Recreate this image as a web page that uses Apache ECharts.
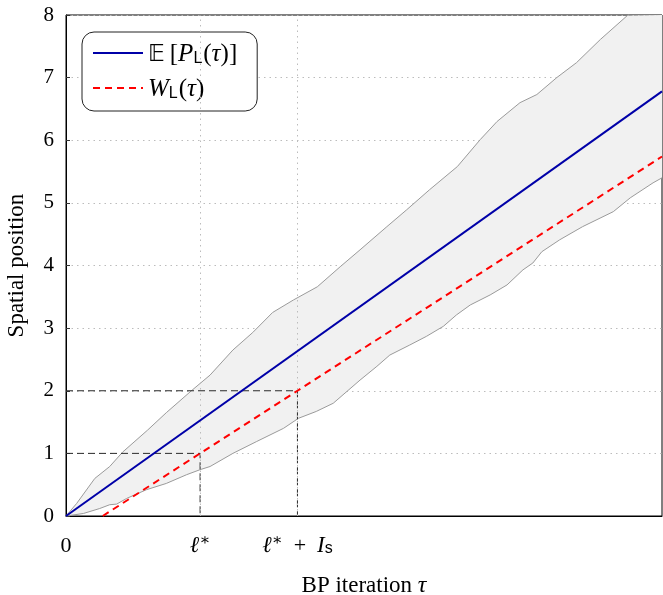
<!DOCTYPE html>
<html>
<head>
<meta charset="utf-8">
<script src="https://cdn.jsdelivr.net/npm/echarts@6/dist/echarts.min.js"></script>
<style>
  html, body { margin: 0; padding: 0; background: #fff; }
  #chart { width: 663px; height: 595px; }
</style>
</head>
<body>
<div id="chart"></div>
<script>
// Horizontal extent in BP iterations and the two marked iterations
const tauMax = 60;
const ellStar = 13.5;
const ellStarPlusIs = 23.3;
const xTickValues = [0, ellStar, ellStarPlusIs];
const yTickValues = [0, 1, 2, 3, 4, 5, 6, 7, 8];

// Expected position of the wave front (solid blue)
const meanPosition = [[0, 0], [60, 6.78]];
// Wave position W_L(tau) (dashed red)
const wavePosition = [[3.7, 0], [13.5, 1], [23.3, 2], [60, 5.74]];

// Spread of the observed front position (grey band)
const bandUpper = [
  [0, 0], [1.07, 0.20], [2.9, 0.6], [4.4, 0.79], [5.7, 1.02], [8.2, 1.37],
  [10.1, 1.65], [12.7, 2.01], [14.5, 2.25], [16.8, 2.65], [18.8, 2.93],
  [20.8, 3.25], [22.9, 3.45], [25.3, 3.66], [27.6, 3.98], [29.6, 4.25],
  [32.3, 4.62], [34.3, 4.89], [36.6, 5.21], [39.4, 5.58], [41.7, 6.01],
  [43.4, 6.30], [45.7, 6.60], [47.4, 6.73], [49.4, 7.00], [51.4, 7.24],
  [53.8, 7.61], [56.5, 7.99], [60, 8.45]
];
const bandLower = [
  [0, 0], [1.75, 0.04], [3.4, 0.12], [4.4, 0.18], [5.1, 0.19], [6.1, 0.28],
  [8.1, 0.42], [10.1, 0.52], [12.15, 0.66], [13.5, 0.74], [14.5, 0.79],
  [16.8, 1.00], [19.2, 1.19], [21.9, 1.40], [23.4, 1.56], [25.2, 1.67],
  [26.9, 1.80], [29.6, 2.17], [31.3, 2.39], [32.6, 2.57], [34.6, 2.73],
  [36.3, 2.87], [38.0, 3.03], [39.3, 3.21], [40.7, 3.37], [42.7, 3.53],
  [44.4, 3.69], [46.0, 3.93], [47.0, 4.04], [47.9, 4.22], [49.7, 4.41],
  [52.0, 4.62], [55.1, 4.86], [56.8, 5.08], [59.1, 5.32], [60, 5.40]
];

// Dashed guides from the axes to the wave position at l* and l*+I_s
const guideEllStar = [[0, 1], [ellStar, 1], [ellStar, 0]];
const guideEllStarIs = [[0, 2], [ellStarPlusIs, 2], [ellStarPlusIs, 0]];

const serif = '"Liberation Serif", "DejaVu Serif", serif';
const sans = '"Liberation Sans", "DejaVu Sans", sans-serif';

const chart = echarts.init(document.getElementById('chart'), null, { renderer: 'canvas' });

const xLabelText = {};
xLabelText[0] = '{n|0}';
xLabelText[ellStar] = '{it|ℓ}{sup|∗}';
xLabelText[ellStarPlusIs] = '{it|ℓ}{sup|∗}{n|\u2002+\u2002}{it|I}{sub|s}';

const gridLineStyle = { color: '#bcbcbc', width: 1, type: [1.5, 4] };

function bandPolygon(params, api) {
  const rect = params.coordSys;
  const clamp = p => [
    Math.min(Math.max(p[0], rect.x), rect.x + rect.width),
    Math.min(Math.max(p[1], rect.y), rect.y + rect.height)
  ];
  const pts = bandUpper.map(d => clamp(api.coord(d)))
    .concat(bandLower.slice().reverse().map(d => clamp(api.coord(d))));
  return {
    type: 'polygon',
    shape: { points: pts },
    style: { fill: '#f1f1f1', stroke: null }
  };
}

const option = {
  animation: false,
  backgroundColor: '#fff',
  grid: {
    left: 66, right: 1, top: 15, bottom: 79,
    outerBoundsMode: 'none',
    containLabel: false,
    show: true, borderColor: '#000', borderWidth: 1, backgroundColor: 'transparent'
  },
  legend: {
    left: 82, top: 32,
    orient: 'vertical',
    backgroundColor: '#fff',
    borderColor: '#222', borderWidth: 1, borderRadius: 12,
    padding: [10, 20, 9, 10],
    itemWidth: 50, itemHeight: 14, itemGap: 10,
    itemStyle: { opacity: 0, borderWidth: 0 },
    data: ['mean', 'wave'],
    formatter: name => name === 'mean'
      ? '{bb|𝔼}{n|\u2009[}{it|P}{sub|L}{n|(}{it|τ}{n|)]}'
      : '{it|W}{sub|L}{n|(}{it|τ}{n|)}',
    textStyle: {
      fontFamily: serif, fontSize: 25, color: '#000',
      rich: {
        n: { fontFamily: serif, fontSize: 25, lineHeight: 28, verticalAlign: 'bottom' },
        it: { fontFamily: serif, fontStyle: 'italic', fontSize: 25, lineHeight: 28, verticalAlign: 'bottom' },
        bb: { fontFamily: '"DejaVu Sans", "DejaVu Serif", serif', fontSize: 23, lineHeight: 28, verticalAlign: 'bottom' },
        sub: { fontFamily: sans, fontSize: 16, lineHeight: 9, verticalAlign: 'bottom', padding: [0, 1, 0, 0] }
      }
    }
  },
  xAxis: {
    type: 'value', min: 0, max: tauMax,
    name: 'BP iteration {it|τ}',
    nameLocation: 'middle', nameGap: 58,
    nameTextStyle: {
      fontFamily: serif, fontSize: 23, color: '#000',
      rich: { it: { fontFamily: serif, fontStyle: 'italic', fontSize: 24 } }
    },
    axisLine: { show: true, lineStyle: { color: '#000', width: 1 } },
    axisTick: { show: false },
    splitLine: { show: false },
    axisLabel: {
      customValues: xTickValues,
      margin: 17,
      formatter: v => xLabelText[v] || '',
      fontFamily: serif, fontSize: 22, color: '#000',
      rich: {
        n: { fontFamily: serif, fontSize: 22, lineHeight: 24, verticalAlign: 'bottom' },
        it: { fontFamily: serif, fontStyle: 'italic', fontSize: 23, lineHeight: 24, verticalAlign: 'bottom' },
        sup: { fontFamily: serif, fontSize: 16, lineHeight: 12, verticalAlign: 'top' },
        sub: { fontFamily: sans, fontSize: 16, lineHeight: 9, verticalAlign: 'bottom' }
      }
    }
  },
  yAxis: {
    type: 'value', min: 0, max: 8, interval: 1,
    name: 'Spatial position',
    nameLocation: 'middle', nameGap: 38,
    nameTextStyle: { fontFamily: serif, fontSize: 23, color: '#000' },
    axisLine: { show: true, lineStyle: { color: '#000', width: 1 } },
    axisTick: { show: true, inside: true, length: 4, lineStyle: { color: '#333' } },
    axisLabel: {
      customValues: yTickValues,
      margin: 12, fontFamily: serif, fontSize: 21, color: '#000'
    },
    splitLine: { show: true, lineStyle: gridLineStyle }
  },
  series: [
    {
      // vertical grid lines at the marked iterations
      name: 'xgrid', type: 'line', data: [], z: 1, silent: true,
      markLine: {
        silent: true, symbol: 'none', label: { show: false },
        lineStyle: gridLineStyle,
        data: xTickValues.slice(1).map(v => ({ xAxis: v }))
      }
    },
    {
      name: 'band', type: 'custom', data: [[0, 0]], z: 2, silent: true,
      renderItem: bandPolygon
    },
    {
      name: 'upper', type: 'line', data: bandUpper, z: 3, symbol: 'none',
      lineStyle: { color: '#9a9a9a', width: 1 }, clip: true, silent: true
    },
    {
      name: 'lower', type: 'line', data: bandLower, z: 3, symbol: 'none',
      lineStyle: { color: '#9a9a9a', width: 1 }, clip: true, silent: true
    },
    {
      name: 'g1', type: 'line', data: guideEllStar, z: 4, symbol: 'none',
      lineStyle: { color: '#2a2a2a', width: 1, type: [7, 4] }, silent: true
    },
    {
      name: 'g2', type: 'line', data: guideEllStarIs, z: 4, symbol: 'none',
      lineStyle: { color: '#2a2a2a', width: 1, type: [7, 4] }, silent: true
    },
    {
      name: 'mean', type: 'line', data: meanPosition, z: 5, symbol: 'none',
      lineStyle: { color: '#0000a8', width: 2 }, itemStyle: { color: '#0000a8' }
    },
    {
      name: 'wave', type: 'line', data: wavePosition, z: 5, symbol: 'none',
      lineStyle: { color: '#ff0000', width: 2, type: [7, 5] }, itemStyle: { color: '#ff0000' }
    }
  ]
};

chart.setOption(option);
</script>
</body>
</html>
